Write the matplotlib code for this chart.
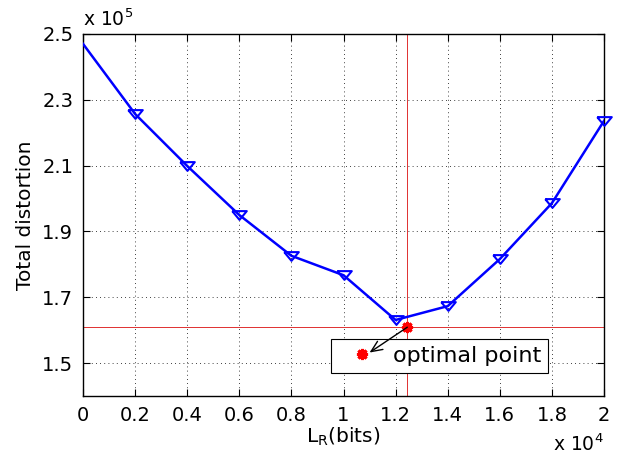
import numpy as np
import matplotlib
matplotlib.use("Agg")
import matplotlib.pyplot as plt

# data
lr_bits = [0, 2000, 4000, 6000, 8000, 10000, 12000, 14000, 16000, 18000, 20000]
distortion = [2.47e5, 2.257e5, 2.099e5, 1.95e5, 1.826e5, 1.767e5,
              1.631e5, 1.673e5, 1.816e5, 1.986e5, 2.236e5]
x_opt = 1.245e4
y_opt = 1.609e5
opt_label = "optimal point"
x_ticks = [0, 2000, 4000, 6000, 8000, 10000, 12000, 14000, 16000, 18000, 20000]
x_ticklabels = ["0", "0.2", "0.4", "0.6", "0.8", "1", "1.2", "1.4", "1.6", "1.8", "2"]
y_ticks = [1.5e5, 1.7e5, 1.9e5, 2.1e5, 2.3e5, 2.5e5]
y_ticklabels = ["1.5", "1.7", "1.9", "2.1", "2.3", "2.5"]

plt.rcParams['font.family'] = ['DejaVu Sans']

fig = plt.figure(figsize=(6.27, 4.55), dpi=100)
ax = fig.add_axes([0.1324, 0.1297, 0.8309, 0.7956])

# flatter down-triangle, like the matlab one
tri = [(-1, 0.6), (1, 0.6), (0, -0.6), (-1, 0.6)]

# main curve (first point has no marker)
ax.plot(lr_bits, distortion, color='#0000ff', lw=1.8, zorder=3)
ax.plot(lr_bits[1:], distortion[1:], linestyle='none', marker=tri, ms=10.5,
        mfc='none', mec='#0000ff', mew=1.5, zorder=4, clip_on=False)

# crosshair at optimal point
ax.axvline(x_opt, color='#e03030', lw=0.7, zorder=2)
ax.axhline(y_opt, color='#e03030', lw=0.7, zorder=2)
star, = ax.plot([x_opt], [y_opt], linestyle='none', marker=(8, 2, 0), ms=8,
                color='red', mec='red', mew=2.2, zorder=5, label=opt_label)

leg = ax.legend(handles=[star], loc='center', bbox_to_anchor=(0.684, 0.1105),
                fontsize=16, frameon=True, fancybox=False, framealpha=1,
                edgecolor='black', borderpad=0.3, handlelength=2.2,
                handletextpad=0.3, numpoints=1)
leg.get_frame().set_linewidth(0.8)
leg.set_zorder(6)

# arrow from the point to the legend marker
ax.annotate("", xy=(1.1e4, 1.532e5), xytext=(x_opt, y_opt),
            arrowprops=dict(arrowstyle='->,head_length=0.8,head_width=0.35',
                            color='black', lw=1.0, shrinkA=0, shrinkB=0),
            zorder=7)

ax.set_xlim(0, 20000)
ax.set_ylim(1.4e5, 2.5e5)
ax.set_xticks(x_ticks)
ax.set_xticklabels(x_ticklabels)
ax.set_yticks(y_ticks)
ax.set_yticklabels(y_ticklabels)
ax.tick_params(direction='in', length=5, width=0.8, top=True, right=True,
               labelsize=14, pad=7)
ax.grid(True, linestyle=(0, (1, 4)), color='black', lw=0.6)
for s in ax.spines.values():
    s.set_linewidth(1.0)

ax.set_xlabel(r'L$_{\mathrm{R}}$(bits)', fontsize=14.5, labelpad=1)
ax.set_ylabel('Total distortion', fontsize=14.5, labelpad=5)

ax.text(0.0, 1.012, r'x 10$^{5}$', transform=ax.transAxes, fontsize=13.5,
        ha='left', va='bottom')
ax.text(1.0, -0.105, r'x 10$^{4}$', transform=ax.transAxes, fontsize=13.5,
        ha='right', va='top')

fig.savefig("out.png", dpi=100)
